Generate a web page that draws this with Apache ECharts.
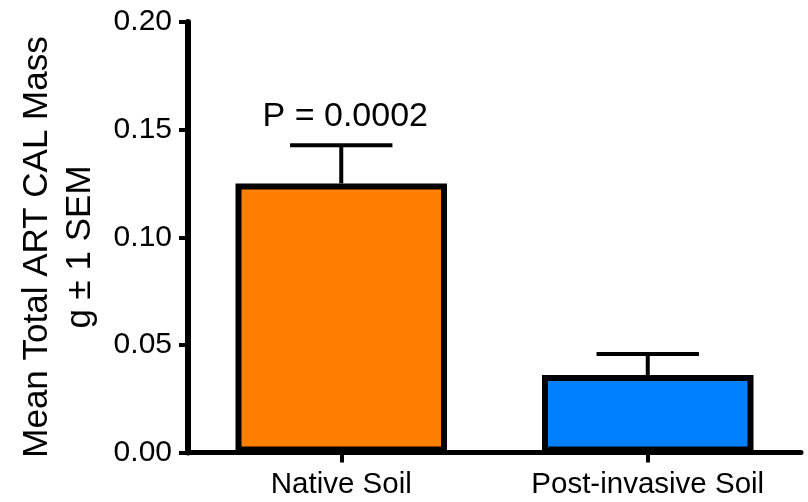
<!DOCTYPE html>
<html>
<head>
<meta charset="utf-8">
<script src="https://cdn.jsdelivr.net/npm/echarts@6/dist/echarts.min.js"></script>
<style>html,body{margin:0;padding:0;background:#fff}#c{width:808px;height:502px}</style>
</head>
<body>
<div id="c"></div>
<script>
var categories = ['Native Soil', 'Post-invasive Soil'];
var means = [0.125, 0.036];
var sems = [0.0177, 0.0098];
var barColors = ['#FF8000', '#0080FF'];
var annotations = ['P = 0.0002', ''];
var yTicks = { min: 0, max: 0.2, interval: 0.05 };
var yTitle = 'Mean Total ART CAL Mass\ng \u00B1 1 SEM';

var FONT = '"Liberation Sans", Arial, sans-serif';
var chart = echarts.init(document.getElementById('c'));

var barData = means.map(function (m, i) {
  return { value: m, itemStyle: { color: barColors[i] } };
});
var errData = means.map(function (m, i) { return [i, m, sems[i]]; });

chart.setOption({
  animation: false,
  backgroundColor: '#fff',
  grid: { left: 188, right: 7, top: 22, bottom: 49.5, containLabel: false },
  xAxis: {
    type: 'category',
    data: categories,
    axisLine: { lineStyle: { color: '#000', width: 5 } },
    axisTick: { show: true, alignWithLabel: true, length: 10, lineStyle: { color: '#000', width: 4 } },
    axisLabel: { color: '#000', fontSize: 29.5, fontFamily: FONT, margin: 17 },
    splitLine: { show: false }
  },
  yAxis: {
    type: 'value',
    min: yTicks.min, max: yTicks.max, interval: yTicks.interval,
    axisLine: { show: true, lineStyle: { color: '#000', width: 6 } },
    axisTick: { show: true, length: 9, lineStyle: { color: '#000', width: 4 } },
    axisLabel: { color: '#000', fontSize: 30, fontFamily: FONT, margin: 16,
      formatter: function (v) { return v.toFixed(2); } },
    splitLine: { show: false }
  },
  graphic: [{
    type: 'text',
    x: 59, y: 247,
    rotation: Math.PI / 2,
    style: {
      text: yTitle,
      fontSize: 35, fontFamily: FONT, fill: '#000',
      align: 'center', verticalAlign: 'middle', lineHeight: 43
    }
  }],
  series: [{
    type: 'bar',
    data: barData,
    barWidth: '69%',
    z: 2,
    itemStyle: { borderColor: '#000', borderWidth: 6 }
  }, {
    type: 'custom',
    z: 1,
    data: errData,
    renderItem: function (params, api) {
      var i = api.value(0), m = api.value(1), s = api.value(2);
      var base = api.coord([i, m]);
      var top = api.coord([i, m + s]);
      var band = api.size([1, 0])[0];
      var half = band * 0.167;
      var children = [{
        type: 'line',
        shape: { x1: base[0], y1: base[1], x2: top[0], y2: top[1] },
        style: { stroke: '#000', lineWidth: 4 }
      }, {
        type: 'line',
        shape: { x1: top[0] - half, y1: top[1], x2: top[0] + half, y2: top[1] },
        style: { stroke: '#000', lineWidth: 4 }
      }];
      var t = annotations[params.dataIndex];
      if (t) {
        children.push({
          type: 'text',
          style: { text: t, x: top[0] + 4, y: top[1] - 12, align: 'center', verticalAlign: 'bottom',
            fontSize: 34, fontFamily: FONT, fill: '#000' }
        });
      }
      return { type: 'group', children: children };
    }
  }]
});
</script>
</body>
</html>
